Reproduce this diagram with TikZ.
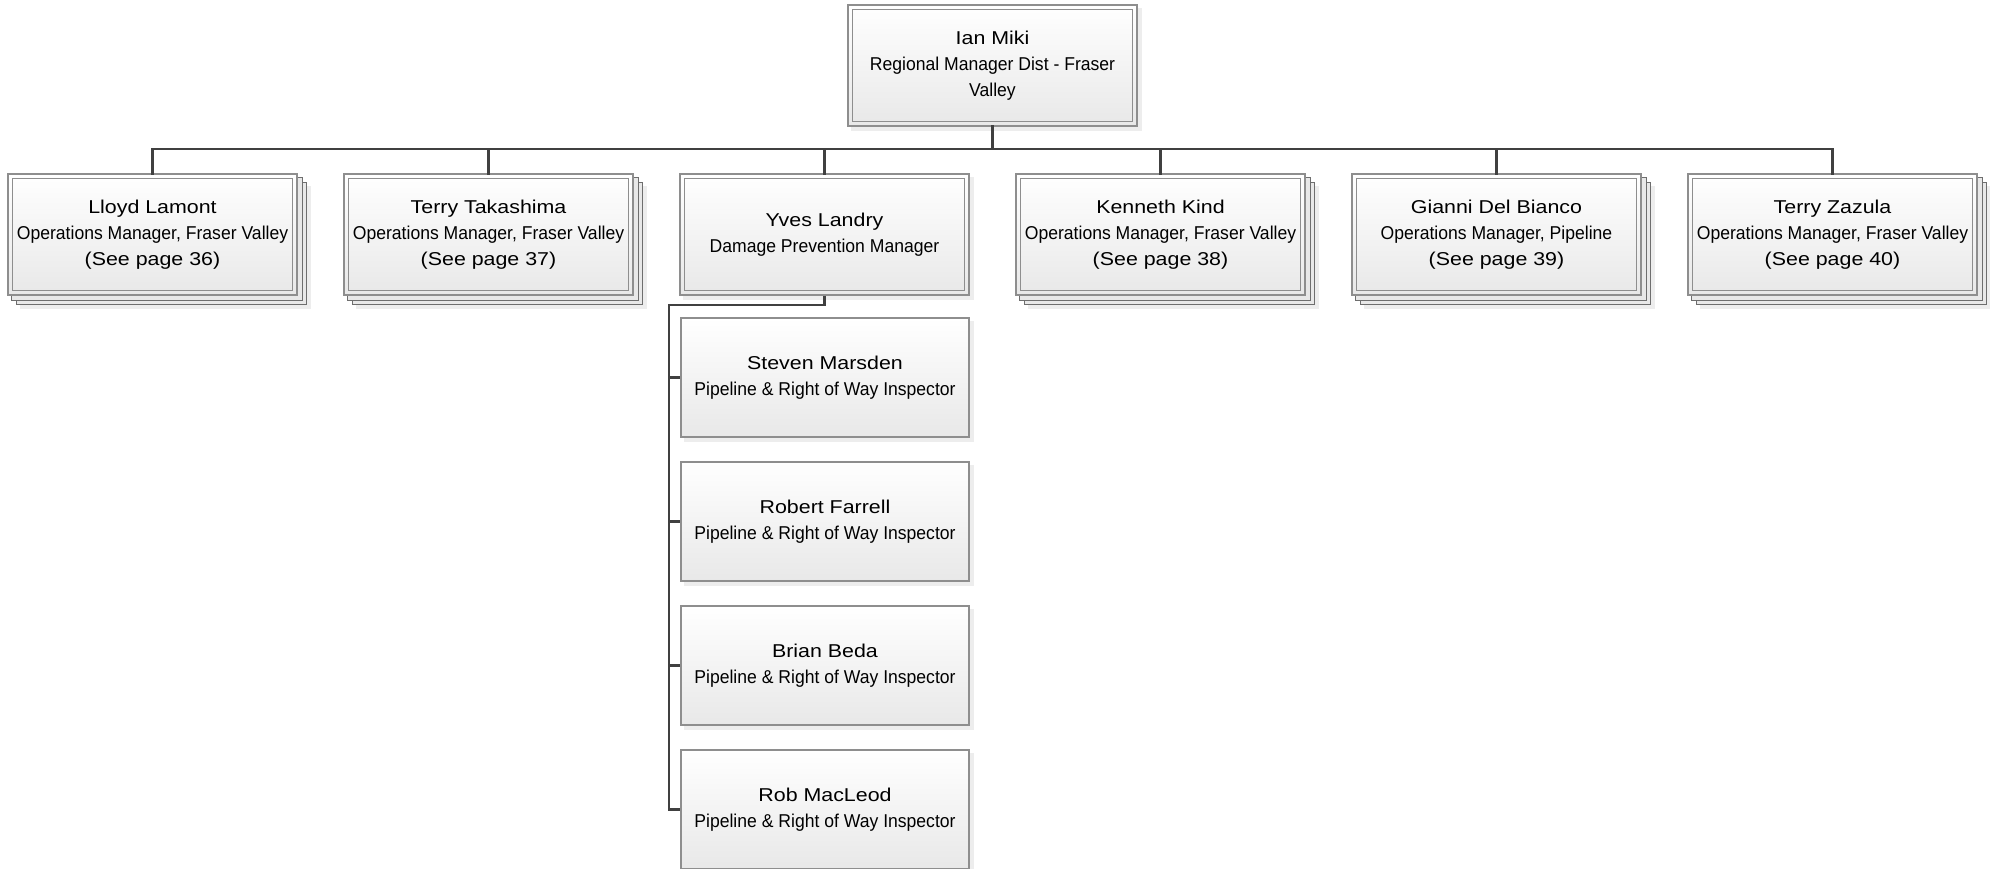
\documentclass[tikz,border=0pt]{standalone}
\usepackage{fontspec}
\setmainfont{Liberation Sans}
% wide face for names, narrow face for job titles
\newfontfamily\namefont[FakeStretch=1.15]{Liberation Sans}
\newfontfamily\rolefont[FakeStretch=0.945]{Liberation Sans}
\usetikzlibrary{backgrounds}

\definecolor{linkgray}{HTML}{404040}
\definecolor{rimgray}{HTML}{8E8E8E}
\definecolor{fillbot}{HTML}{E8E8E8}
\definecolor{shadegray}{HTML}{EDEDED}
\definecolor{layergray}{HTML}{6E6E6E}

\tikzset{
  card/.style={minimum width=289pt, minimum height=121pt, inner sep=0pt,
    align=center, top color=white, bottom color=fillbot,
    draw=rimgray, line width=1.6pt,
    font=\namefont\fontsize{18.6}{26}\selectfont},
  leaf/.style={card, minimum width=288pt, minimum height=119pt, line width=1.5pt},
  link/.style={draw=linkgray, line width=2.8pt, line cap=rect},
  rim/.style={draw=rimgray, line width=1.3pt},
  layer/.style={fill=fillbot, draw=layergray, line width=1.2pt},
  shade/.style={fill=shadegray},
}
\newcommand{\role}[1]{{\rolefont #1}}

\begin{document}
\begin{tikzpicture}[x=1pt, y=-1pt]
\path[use as bounding box, clip] (0,0) rectangle (1990,869);

% top manager
\node[card] (ian) at (992.5,65.5)
  {Ian Miki\\\role{Regional Manager Dist - Fraser}\\\role{Valley}};

% direct reports
\node[card] (lloyd) at (152.5,234.5)
  {Lloyd Lamont\\\role{Operations Manager, Fraser Valley}\\(See page 36)};
\node[card] (terryt) at (488.5,234.5)
  {Terry Takashima\\\role{Operations Manager, Fraser Valley}\\(See page 37)};
\node[card] (yves) at (824.5,234.5)
  {Yves Landry\\\role{Damage Prevention Manager}};
\node[card] (kenneth) at (1160.5,234.5)
  {Kenneth Kind\\\role{Operations Manager, Fraser Valley}\\(See page 38)};
\node[card] (gianni) at (1496.5,234.5)
  {Gianni Del Bianco\\\role{Operations Manager, Pipeline}\\(See page 39)};
\node[card] (zazula) at (1832.5,234.5)
  {Terry Zazula\\\role{Operations Manager, Fraser Valley}\\(See page 40)};

% inspectors under Yves Landry
\node[leaf] (steven) at (825,377.5)
  {Steven Marsden\\\role{Pipeline \& Right of Way Inspector}};
\node[leaf] (robert) at (825,521.5)
  {Robert Farrell\\\role{Pipeline \& Right of Way Inspector}};
\node[leaf] (brian) at (825,665.5)
  {Brian Beda\\\role{Pipeline \& Right of Way Inspector}};
\node[leaf] (rob) at (825,809.5)
  {Rob MacLeod\\\role{Pipeline \& Right of Way Inspector}};

% double rims
\foreach \n in {ian,lloyd,terryt,yves,kenneth,gianni,zazula}
  \draw[rim] ([shift={(5,5)}]\n.north west) rectangle ([shift={(-5,-5)}]\n.south east);

% stacked sheets and drop shadows
\begin{pgfonlayer}{background}
  \foreach \n in {lloyd,terryt,kenneth,gianni,zazula}{
    \fill[shade] ([shift={(13,13)}]\n.north west) rectangle ([shift={(13,13)}]\n.south east);
    \filldraw[layer] ([shift={(9,9)}]\n.north west) rectangle ([shift={(9,9)}]\n.south east);
    \filldraw[layer] ([shift={(4.5,4.5)}]\n.north west) rectangle ([shift={(4.5,4.5)}]\n.south east);
  }
  \foreach \n in {ian,yves,steven,robert,brian,rob}
    \fill[shade] ([shift={(4,4)}]\n.north west) rectangle ([shift={(4,4)}]\n.south east);
\end{pgfonlayer}

% connectors
\coordinate (bus) at (0,149);
\draw[link] (ian.south) -- (ian.south |- bus);
\draw[link] (lloyd.north |- bus) -- (zazula.north |- bus);
\foreach \n in {lloyd,terryt,yves,kenneth,gianni,zazula}
  \draw[link] (\n.north |- bus) -- (\n.north);

\coordinate (spine) at (669,305);
\draw[link, line cap=butt] (yves.south) |- (spine) |- (rob.west);
\foreach \n in {steven,robert,brian}
  \draw[link, line cap=butt] (spine |- \n.west) -- (\n.west);
\end{tikzpicture}
\end{document}
